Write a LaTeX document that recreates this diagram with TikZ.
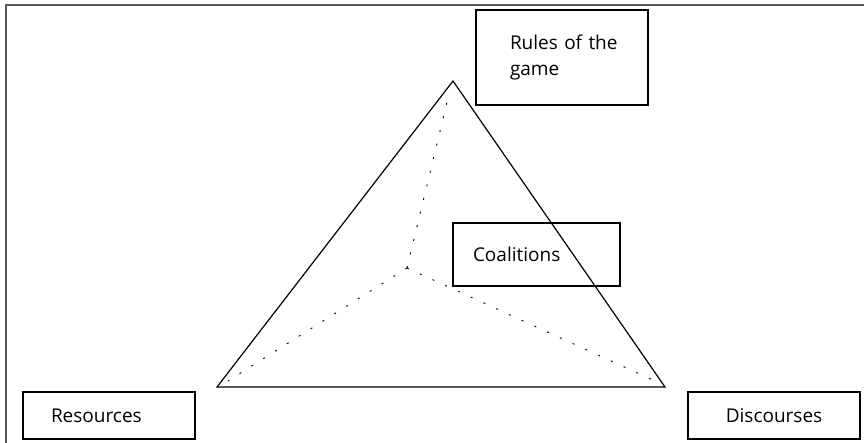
\documentclass[tikz,border=0pt]{standalone}
\usepackage{fontspec}
\setmainfont{Open Sans}
\usepackage{tikz}
\tikzset{
  factor/.style={draw, rectangle, line width=1.2pt, inner sep=0pt, align=left,
    font=\fontsize{19}{26}\selectfont},
  link/.style={line width=0.9pt, dash pattern=on 2pt off 12pt}
}

\begin{document}
\begin{tikzpicture}[x=1pt,y=-1pt]
\useasboundingbox (0,0) rectangle (864,443);
\clip (0,0) rectangle (864,443);
%%%FRAME
\draw[line width=1.5pt, black!65] (6,5) rectangle (880,460);
%%%TRIANGLE
\coordinate (apex) at (453,81);
\coordinate (left) at (217,387);
\coordinate (right) at (665,387);
\draw[line width=1.2pt] (apex) -- (left) -- (right) -- cycle;
%%%INNER LINKS
\coordinate (hub) at (407,268);
\coordinate (tipT) at (448,98);
\coordinate (tipL) at (228,381);
\coordinate (tipR) at (655,381);
\draw[link] (hub) -- (tipT);
\draw[link] (hub) -- (tipL);
\draw[link] (hub) -- (tipR);
%%%FACTORS
\node[factor, minimum width=172pt, minimum height=95pt, text width=104pt] (rules) at (562,57.5) {Rules~of~the\\game};
\node[factor, minimum width=167pt, minimum height=63pt, text width=127pt] (coalitions) at (536.5,254.5) {Coalitions};
\node[factor, minimum width=172pt, minimum height=47pt, text width=116pt] (resources) at (109,415.5) {Resources};
\node[factor, minimum width=172pt, minimum height=47pt, text width=120pt, align=center] (discourses) at (774,415.5) {Discourses};
\end{tikzpicture}
\end{document}
